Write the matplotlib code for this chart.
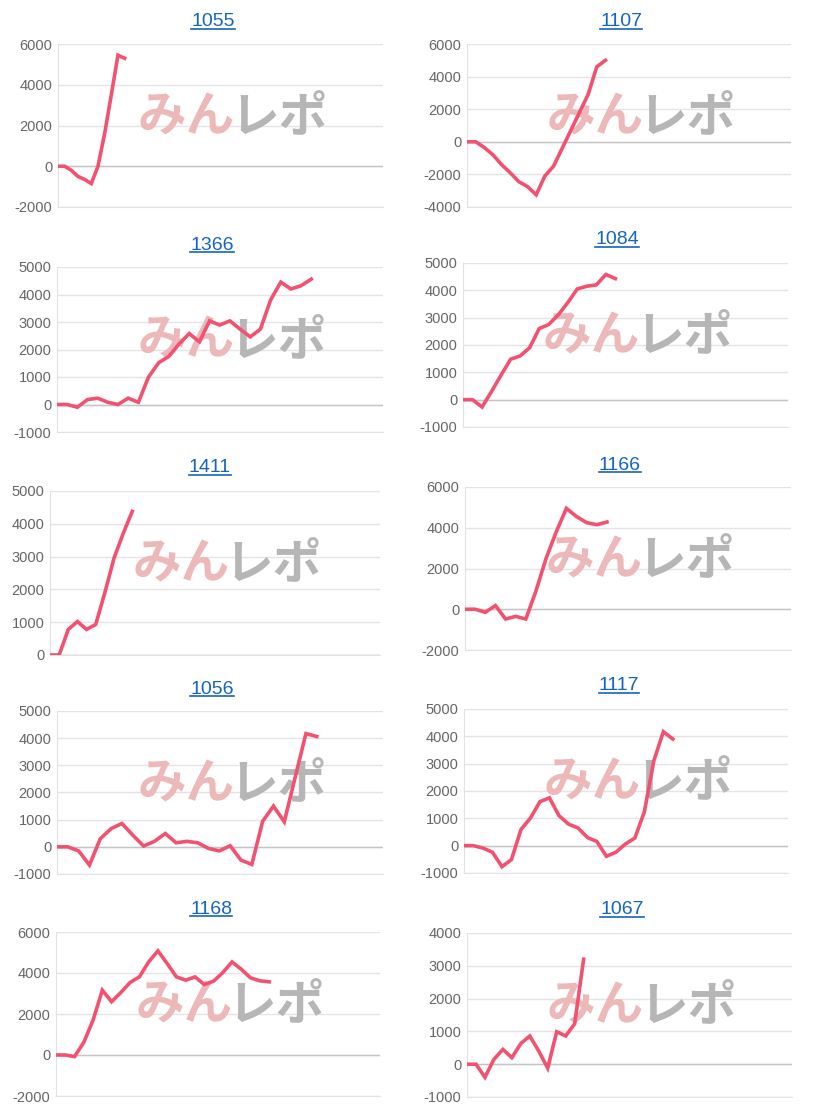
import numpy as np
import matplotlib.pyplot as plt
from matplotlib.lines import Line2D

# machine numbers (panel titles)
titles = ['1055', '1107', '1366', '1084', '1411', '1166', '1056', '1117', '1168', '1067']

# difference in coins, sampled at a fixed interval per machine
y_1055 = [0, 0, -200, -500, -650, -850, 0, 1600, 3500, 5450, 5300]
y_1107 = [0, 0, -350, -800, -1400, -1900, -2450, -2750, -3250, -2100, -1500,
          -400, 700, 1800, 2900, 4600, 5000]
y_1366 = [0, 0, -100, 180, 230, 80, 0, 230, 80, 1000, 1520, 1750, 2200, 2580,
          2280, 3040, 2890, 3040, 2740, 2460, 2740, 3800, 4450, 4200, 4320, 4560]
y_1084 = [0, 0, -270, 300, 900, 1480, 1600, 1900, 2600, 2750, 3100, 3550, 4050,
          4150, 4200, 4580, 4430]
y_1411 = [0, 0, 780, 1020, 780, 930, 1900, 2950, 3700, 4380]
y_1166 = [0, 0, -150, 180, -480, -350, -480, 900, 2500, 3800, 4950, 4550, 4250,
          4150, 4280]
y_1056 = [0, 0, -150, -670, 300, 670, 860, 430, 30, 200, 490, 150, 200, 150, -60,
          -150, 40, -490, -650, 940, 1500, 920, 2550, 4170, 4060]
y_1117 = [0, 0, -90, -240, -770, -510, 590, 1010, 1610, 1750, 1100, 790, 650, 300,
          150, -390, -240, 60, 280, 1240, 3110, 4170, 3900]
y_1168 = [0, 0, -80, 620, 1700, 3160, 2600, 3050, 3540, 3810, 4540, 5080, 4460,
          3810, 3650, 3810, 3440, 3600, 4020, 4540, 4180, 3760, 3620, 3570]
y_1067 = [0, 0, -400, 150, 450, 200, 630, 860, 400, -120, 990, 860, 1230, 3200]

series = [y_1055, y_1107, y_1366, y_1084, y_1411, y_1166, y_1056, y_1117, y_1168, y_1067]

# sample interval on the shared 0-100 x axis
steps = [2.05, 2.67, 3.12, 2.93, 2.77, 3.11, 3.32, 2.93, 2.86, 2.76]

# y axis ranges (min, max, tick step)
y_ranges = [(-2000, 6000, 2000), (-4000, 6000, 2000), (-1000, 5000, 1000),
            (-1000, 5000, 1000), (0, 5000, 1000), (-2000, 6000, 2000),
            (-1000, 5000, 1000), (-1000, 5000, 1000), (-2000, 6000, 2000),
            (-1000, 4000, 1000)]

# layout in pixels: plot area (left, top, right, bottom) and title centre
W, H = 816, 1115
areas = [(58, 44, 383, 207), (467, 44, 791, 207),
         (57, 267, 383, 432), (463, 263, 788, 427),
         (50, 491, 380, 655), (465, 487, 791, 650),
         (57, 711, 383, 874), (464, 709, 788, 873),
         (56, 932, 380, 1096), (467, 933, 792, 1097)]
title_pos = [(213, 22), (621, 22), (212, 245), (617, 240), (210, 468),
             (620, 465), (212, 689), (619, 686), (211, 909), (622, 910)]

line_color = '#f2526f'
title_color = '#1565c0'

plt.rcParams['font.family'] = ['Liberation Sans', 'DejaVu Sans']
plt.rcParams['axes.unicode_minus'] = False

fig = plt.figure(figsize=(W / 100, H / 100), dpi=100)

title_texts = []
for i in range(len(titles)):
    l, t, r, b = areas[i]
    ax = fig.add_axes([l / W, 1 - b / H, (r - l) / W, (b - t) / H])

    y = series[i]
    x = np.arange(len(y)) * steps[i]
    ax.plot(x, y, color=line_color, linewidth=2.6, solid_joinstyle='miter', zorder=3)

    lo, hi, st = y_ranges[i]
    ax.set_xlim(0, 100)
    ax.set_ylim(lo, hi)
    ax.set_yticks(np.arange(lo, hi + 1, st))
    ax.set_xticks([])
    ax.grid(axis='y', color='#e4e4e4', linewidth=1)
    ax.axhline(0, color='#c4c4c4', linewidth=1, zorder=1.5)
    ax.tick_params(axis='y', length=0, pad=4, labelsize=10.5, labelcolor='#666666')
    for s in ['top', 'right']:
        ax.spines[s].set_visible(False)
    ax.spines['left'].set_color('#e2e2e2')
    ax.spines['bottom'].set_color('#e2e2e2')
    ax.set_axisbelow(True)

    # watermark
    ax.text(0.545, 0.555, 'みん', transform=ax.transAxes, ha='right', va='center',
            fontsize=35, fontweight='bold', color='#ecb8b8', zorder=1,
            family=['Noto Sans CJK JP', 'DejaVu Sans'])
    ax.text(0.53, 0.555, 'レポ', transform=ax.transAxes, ha='left', va='center',
            fontsize=35, fontweight='bold', color='#b6b6b6', zorder=1,
            family=['Noto Sans CJK JP', 'DejaVu Sans'])

    tx, ty = title_pos[i]
    txt = fig.text(tx / W, 1 - ty / H, titles[i], ha='center', va='center',
                   fontsize=14, color=title_color)
    title_texts.append(txt)

# underline the titles like links
fig.canvas.draw()
for txt in title_texts:
    bb = txt.get_window_extent()
    yline = (bb.y0 + 1.5) / H
    fig.add_artist(Line2D([bb.x0 / W, bb.x1 / W], [yline, yline],
                          color=title_color, linewidth=1.2))

fig.savefig('out.png', dpi=100)
